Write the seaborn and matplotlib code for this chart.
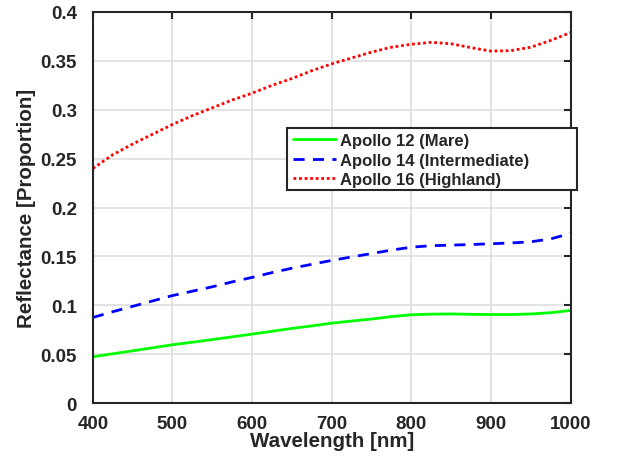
import matplotlib
matplotlib.use("Agg")
import matplotlib.pyplot as plt
import seaborn as sns
import pandas as pd
from matplotlib.patches import Rectangle
from matplotlib.ticker import FormatStrFormatter

# Wavelength samples (nm)
wavelength = [400, 425, 450, 475, 500, 525, 550, 575, 600, 625, 650, 675, 700,
              725, 750, 775, 800, 825, 850, 875, 900, 925, 950, 975, 1000]

# Reflectance values
apollo12 = [0.0474, 0.0505, 0.0535, 0.0566, 0.0597, 0.0623, 0.0650, 0.0678, 0.0706,
            0.0735, 0.0764, 0.0790, 0.0818, 0.0840, 0.0860, 0.0885, 0.0904, 0.0910,
            0.0912, 0.0908, 0.0906, 0.0906, 0.0912, 0.0925, 0.0948]
apollo14 = [0.0876, 0.0935, 0.0990, 0.1045, 0.1100, 0.1145, 0.1190, 0.1240, 0.1286,
            0.1335, 0.1380, 0.1420, 0.1460, 0.1495, 0.1530, 0.1565, 0.1595, 0.1610,
            0.1616, 0.1622, 0.1630, 0.1638, 0.1650, 0.1680, 0.1736]
apollo16 = [0.2400, 0.2540, 0.2650, 0.2750, 0.2850, 0.2940, 0.3020, 0.3100, 0.3170,
            0.3250, 0.3320, 0.3400, 0.3470, 0.3530, 0.3590, 0.3640, 0.3670, 0.3690,
            0.3675, 0.3635, 0.3600, 0.3605, 0.3640, 0.3710, 0.3790]

labels = ["Apollo 12 (Mare)", "Apollo 14 (Intermediate)", "Apollo 16 (Highland)"]
colors = ["#00ff00", "#0000ff", "#ff0000"]
styles = ["-", (0, (4, 3)), (0, (1, 1))]

sns.set_theme(style="whitegrid")
plt.rcParams['font.family'] = ['Liberation Sans', 'DejaVu Sans']
plt.rcParams['font.weight'] = 'bold'

fig = plt.figure(figsize=(6.19, 4.64), dpi=100)
ax = fig.add_axes([0.150, 0.129, 0.772, 0.843])

for series, lab, col, ls in zip([apollo12, apollo14, apollo16], labels, colors, styles):
    df = pd.DataFrame({"wl": wavelength, "r": series})
    sns.lineplot(data=df, x="wl", y="r", ax=ax, color=col, label=lab,
                 linewidth=2, linestyle=ls)

ax.set_xlim(400, 1000)
ax.set_ylim(0, 0.4)
ax.set_xticks(range(400, 1001, 100))
ax.set_yticks([i * 0.05 for i in range(9)])
ax.yaxis.set_major_formatter(FormatStrFormatter('%g'))
ax.set_xlabel("Wavelength [nm]", fontsize=14.8, fontweight='bold', color='#262626')
ax.set_ylabel("Reflectance [Proportion]", fontsize=14.8, fontweight='bold', color='#262626')
ax.xaxis.set_label_coords(0.5, -0.072)
ax.yaxis.set_label_coords(-0.119, 0.5)

ax.grid(True, color='#e0e0e0', linewidth=1.3)
ax.set_facecolor('white')
for sp in ax.spines.values():
    sp.set_visible(True)
    sp.set_color('#262626')
    sp.set_linewidth(1.5)
ax.tick_params(direction='in', length=5, width=1.5, color='#262626',
               top=True, right=True, labelsize=13.5, labelcolor='#262626')
ax.tick_params(axis='x', pad=8.5)
ax.tick_params(axis='y', pad=11.5)
for t in ax.get_xticklabels() + ax.get_yticklabels():
    t.set_fontweight('bold')

# legend entries without frame, plus a MATLAB-like box around them
leg = ax.legend(loc='upper left', bbox_to_anchor=(0.418, 0.690), borderaxespad=0,
                frameon=False, prop={'weight': 'bold', 'size': 12},
                handlelength=2.6, handletextpad=0.25, labelspacing=0.26,
                borderpad=0)
ax.add_patch(Rectangle((0.406, 0.545), 0.607, 0.158, transform=ax.transAxes,
                       facecolor='white', edgecolor='#262626', linewidth=1.5,
                       clip_on=False, zorder=4))
leg.set_zorder(5)

fig.savefig("out.png", dpi=100)
